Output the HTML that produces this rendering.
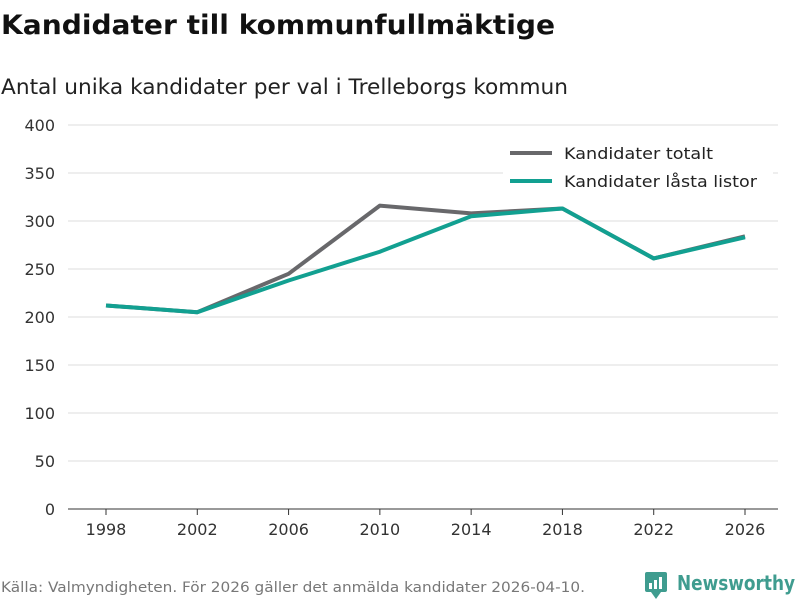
<!DOCTYPE html>
<html><head><meta charset="utf-8"><style>
body{margin:0;background:#fff;}
svg{display:block;font-family:"DejaVu Sans","Liberation Sans",sans-serif;}
</style></head><body>
<svg id="chart" width="800" height="600">
<text x="1" y="34" font-size="27" font-weight="bold" fill="#111" textLength="554" lengthAdjust="spacingAndGlyphs">Kandidater till kommunfullmäktige</text>
<text x="1" y="94" font-size="21" fill="#222" textLength="567" lengthAdjust="spacingAndGlyphs">Antal unika kandidater per val i Trelleborgs kommun</text>
<g id="grid"></g><g id="xaxis"></g><g id="series"></g>
<g>
<rect x="503" y="140" width="270" height="58" fill="#fff"/>
<line x1="510" y1="153" x2="552" y2="153" stroke="#68686b" stroke-width="4"/>
<text x="564" y="159" font-size="16" fill="#222" textLength="149" lengthAdjust="spacingAndGlyphs">Kandidater totalt</text>
<line x1="510" y1="181" x2="552" y2="181" stroke="#12a091" stroke-width="4"/>
<text x="564" y="187" font-size="16" fill="#222" textLength="193" lengthAdjust="spacingAndGlyphs">Kandidater låsta listor</text>
</g>
<text x="1" y="592" font-size="14" fill="#777" textLength="584" lengthAdjust="spacingAndGlyphs">Källa: Valmyndigheten. För 2026 gäller det anmälda kandidater 2026-04-10.</text>
<g>
<rect x="645" y="572" width="22" height="20" rx="2" fill="#3f9c8f"/>
<polygon points="651,592 661,592 656,599" fill="#3f9c8f"/>
<rect x="649" y="583" width="3" height="6" fill="#fff"/><rect x="654" y="580" width="3" height="9" fill="#fff"/><rect x="659" y="577" width="3" height="12" fill="#fff"/>
<text x="677" y="590" font-size="20" font-weight="bold" fill="#3f9c8f" textLength="118" lengthAdjust="spacingAndGlyphs">Newsworthy</text>
</g>
</svg>
<script>
const years=[1998,2002,2006,2010,2014,2018,2022,2026];
const totalt=[212,205,245,316,308,313,261,284];
const lasta=[212,205,238,268,305,313,261,283];
const yTicks=[0,50,100,150,200,250,300,350,400];
const NS='http://www.w3.org/2000/svg';
const x=v=>106+(v-1998)*(745-106)/28;
const y=v=>509-v*(509-125)/400;
function mk(t,a,p){const e=document.createElementNS(NS,t);for(const k in a)e.setAttribute(k,a[k]);p.appendChild(e);return e;}
const grid=document.getElementById('grid');
yTicks.forEach(t=>{
 const l=mk('line',{x1:68,x2:778,y1:y(t),y2:y(t),stroke:t===0?'#333':'#ddd','stroke-width':1},grid);
 
 
 const tx=mk('text',{x:55,y:y(t)+6,'font-size':16,fill:'#333','text-anchor':'end'},grid);
 tx.textContent=t;
 
 
});
const xa=document.getElementById('xaxis');
years.forEach(yr=>{
 const l=mk('line',{x1:x(yr),x2:x(yr),y1:509,y2:515,stroke:'#333'},xa);
 
 
 const tx=mk('text',{x:x(yr),y:535,'font-size':16,fill:'#333','text-anchor':'middle'},xa);
 tx.textContent=yr;
 
 
});
const s=document.getElementById('series');
[[totalt,'#68686b','line-totalt'],[lasta,'#12a091','line-lasta']].forEach(([d,c,n])=>{
 const p=mk('polyline',{points:d.map((v,i)=>x(years[i])+','+y(v)).join(' '),fill:'none',stroke:c,'stroke-width':4,'stroke-linejoin':'round'},s);
 
 
});
</script>
</body></html>
